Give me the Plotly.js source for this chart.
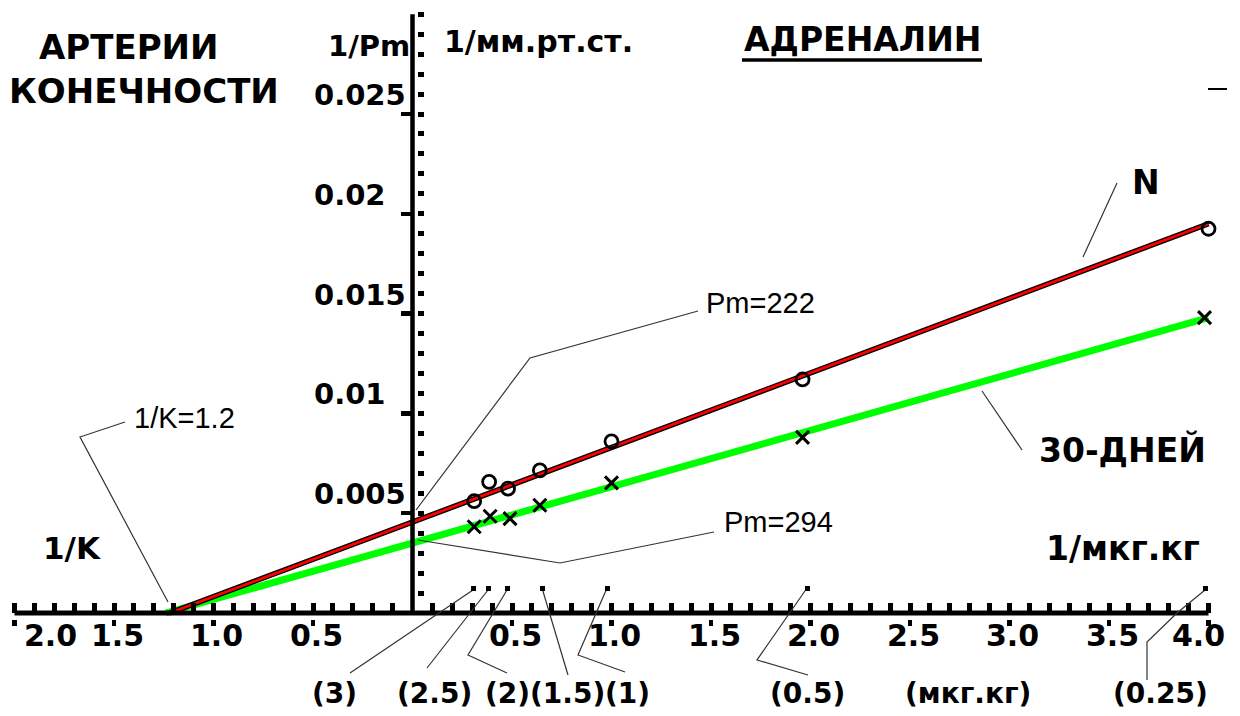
<!DOCTYPE html>
<html><head><meta charset="utf-8">
<script src="https://cdn.plot.ly/plotly-3.0.1.min.js"></script>
<style>html,body{margin:0;padding:0;background:#fff;overflow:hidden}</style>
</head><body><div id="chart" style="width:1240px;height:716px"></div>
<script>
// ---------- data ----------
// circles: normal (N)
const xN = [0.31, 0.385, 0.48, 0.64, 1.0, 1.96, 4.0];
const yN = [0.0056, 0.00657, 0.00623, 0.00715, 0.0086, 0.0117, 0.01925];
// crosses: 30 days
const x30 = [0.31, 0.39, 0.49, 0.64, 1.0, 1.96, 3.98];
const y30 = [0.00432, 0.00485, 0.00473, 0.0054, 0.00652, 0.0088, 0.0148];
// fitted lines (end points)
const fitXN = [-1.22, 4.0];
const fitYN = [0, 0.0195];
const fitX30 = [-1.24, 4.0];
const fitY30 = [0, 0.0148];
// axis ticks / labels
const xTickVals = [-2, -1.5, -1, -0.5, 0.5, 1, 1.5, 2, 2.5, 3, 3.5, 4];
const xTickText = ['2.0', '1.5', '1.0', '0.5', '0.5', '1.0', '1.5', '2.0', '2.5', '3.0', '3.5', '4.0'];
const yTickVals = [0.005, 0.01, 0.015, 0.02, 0.025];
const yTickText = ['0.005', '0.01', '0.015', '0.02', '0.025'];
const doseLabels = ['(3)', '(2.5)', '(2)', '(1.5)', '(1)', '(0.5)', '(мкг.кг)', '(0.25)'];

// ---------- geometry: plot area = whole canvas ----------
const W = 1240, H = 716;
const X0 = 412.5, SX = 199;      // pixel of x=0, pixels per unit
const Y0 = 613, SY = 19960;      // pixel of y=0, pixels per unit
const xRange = [(0 - X0) / SX, (W - X0) / SX];
const yRange = [(Y0 - H) / SY, Y0 / SY];
const PX = p => p / W, PY = p => 1 - p / H;

const BOLD = 'DejaVu Sans';
const REG = 'Liberation Sans';

const traces = [
  {x: fitX30, y: fitY30, mode: 'lines', line: {color: '#00ff00', width: 7}, hoverinfo: 'skip'},
  {x: fitXN, y: fitYN, mode: 'lines', line: {color: '#000000', width: 5.5}, hoverinfo: 'skip'},
  {x: fitXN, y: fitYN, mode: 'lines', line: {color: '#ff0000', width: 2.8}, hoverinfo: 'skip'},
  {x: xN, y: yN, mode: 'markers', marker: {symbol: 'circle-open', size: 13, color: '#000', line: {width: 2.8}}},
  {x: x30, y: y30, mode: 'markers', marker: {symbol: 'x-thin-open', size: 13, color: '#000', line: {width: 3}}},
  {x: [0], y: [0], xaxis: 'x2', yaxis: 'y2', mode: 'markers', marker: {opacity: 0}, hoverinfo: 'skip'}
];

// tick positions
const xMinor = [];
for (let i = -20; i <= 40; i++) if (i !== 0) xMinor.push(i / 10);
const yMinor = [];
for (let i = 1; i <= 30; i++) yMinor.push(i / 1000);

const annotations = [];
function txt(px, py, text, size, opts) {
  annotations.push(Object.assign({
    xref: 'paper', yref: 'paper', x: PX(px), y: PY(py), text: text, showarrow: false,
    xanchor: 'center', yanchor: 'middle',
    font: {family: BOLD, size: size, color: '#000', weight: 'bold'}
  }, opts || {}));
}
// x tick labels
xTickVals.forEach((v, i) => {
  const a = {xref: 'x', yref: 'paper', x: v, y: PY(635), text: xTickText[i], showarrow: false,
    xanchor: 'center', yanchor: 'middle', xshift: 3,
    font: {family: BOLD, size: 30, color: '#000', weight: 'bold'}};
  if (i === 0) { a.xanchor = 'left'; a.xshift = 7; }
  if (i === xTickVals.length - 1) { a.xshift = -10; }
  annotations.push(a);
});
// y tick labels
yTickVals.forEach((v, i) => {
  annotations.push({xref: 'paper', yref: 'y', x: PX(312), y: v, text: yTickText[i], showarrow: false,
    xanchor: 'left', yanchor: 'middle', yshift: 19,
    font: {family: BOLD, size: 29, color: '#000', weight: 'bold'}});
});
// dose labels under the axis
const dosePx = [334, 434, 507, 567, 627, 807, 968, 1160];
doseLabels.forEach((t, i) => txt(dosePx[i], 693, t, 28));

txt(128, 47, 'АРТЕРИИ', 34);
txt(144, 91, 'КОНЕЧНОСТИ', 34);
txt(369, 46, '1/Pm', 29);
txt(538, 42, '1/мм.рт.ст.', 30);
txt(862, 39, 'АДРЕНАЛИН', 33);
txt(1146, 182, 'N', 33);
txt(1122, 450, '30-ДНЕЙ', 33);
txt(72, 548, '1/K', 31);
txt(1123, 548, '1/мкг.кг', 33);
txt(760, 303, 'Pm=222', 29, {font: {family: REG, size: 29, color: '#000'}});
txt(778, 522, 'Pm=294', 29, {font: {family: REG, size: 29, color: '#000'}});
txt(184, 418, '1/K=1.2', 29, {font: {family: REG, size: 29, color: '#000'}});

// ---------- shapes ----------
const shapes = [];
function poly(pts, w, col) {
  const d = pts.map((p, i) => (i ? 'L' : 'M') + PX(p[0]).toFixed(5) + ',' + PY(p[1]).toFixed(5)).join(' ');
  shapes.push({type: 'path', xref: 'paper', yref: 'paper', path: d, line: {color: col || '#333', width: w || 1.2}});
}
// axis lines
shapes.push({type: 'line', xref: 'x', yref: 'y', x0: -2.0, x1: 4.0, y0: 0, y1: 0, line: {color: '#000', width: 5}});
shapes.push({type: 'line', xref: 'x', yref: 'y', x0: 0, x1: 0, y0: -0.0001, y1: 0.0300, line: {color: '#000', width: 4.5}});
// leader lines
poly([[698, 311], [530, 358], [416, 510]]);
poly([[418, 540], [560, 563], [714, 532]]);
poly([[125, 422], [80, 437], [168, 602]]);
poly([[1117, 183], [1083, 257]]);
poly([[982, 391], [1022, 450]]);
poly([[350, 673], [473, 590]]);
poly([[427, 668], [488, 590]]);
poly([[507, 673], [468, 655], [507, 590]]);
poly([[568, 675], [542, 588]]);
poly([[625, 672], [578, 655], [607, 588]]);
poly([[808, 675], [757, 660], [807, 588]]);
poly([[1147, 680], [1147, 642], [1177, 613], [1205, 590]]);
// small flags at leader ends
[[473, 588], [488, 588], [507, 588], [542, 588], [607, 588], [807, 588], [1205, 588]].forEach(p => {
  shapes.push({type: 'rect', xref: 'paper', yref: 'paper', x0: PX(p[0] - 2), x1: PX(p[0] + 3), y0: PY(p[1] + 3), y1: PY(p[1] - 2),
    fillcolor: '#000', line: {width: 0}});
});
// title underline and top-right dash
poly([[742, 60], [982, 60]], 3.5, '#000');
poly([[1208, 89], [1227, 89]], 2, '#000');

const layout = {
  width: W, height: H, margin: {l: 0, r: 0, t: 0, b: 0, pad: 0},
  paper_bgcolor: '#fff', plot_bgcolor: 'rgba(0,0,0,0)', showlegend: false,
  xaxis: {range: xRange, domain: [0, 1], anchor: 'free', position: 1 - Y0 / H,
    showgrid: false, zeroline: false, showline: false, showticklabels: false,
    tickmode: 'array', tickvals: xMinor, ticks: 'inside', ticklen: 10, tickwidth: 5, tickcolor: '#000'},
  xaxis2: {range: xRange, domain: [0, 1], overlaying: 'x', anchor: 'free', position: 1 - 619 / H,
    showgrid: false, zeroline: false, showline: false, showticklabels: false,
    tickmode: 'array', tickvals: xTickVals, ticks: 'outside', ticklen: 6, tickwidth: 4.5, tickcolor: '#000'},
  yaxis: {range: yRange, domain: [0, 1], anchor: 'free', position: X0 / W,
    showgrid: false, zeroline: false, showline: false, showticklabels: false,
    tickmode: 'array', tickvals: yTickVals, ticks: 'outside', ticklen: 12, tickwidth: 4.5, tickcolor: '#000'},
  yaxis2: {range: yRange, domain: [0, 1], overlaying: 'y', side: 'right', anchor: 'free', position: 417 / W,
    showgrid: false, zeroline: false, showline: false, showticklabels: false,
    tickmode: 'array', tickvals: yMinor, ticks: 'outside', ticklen: 6, tickwidth: 5, tickcolor: '#000'},
  annotations: annotations,
  shapes: shapes
};

Plotly.newPlot('chart', traces, layout, {staticPlot: true, displayModeBar: false});
</script>
</body></html>
